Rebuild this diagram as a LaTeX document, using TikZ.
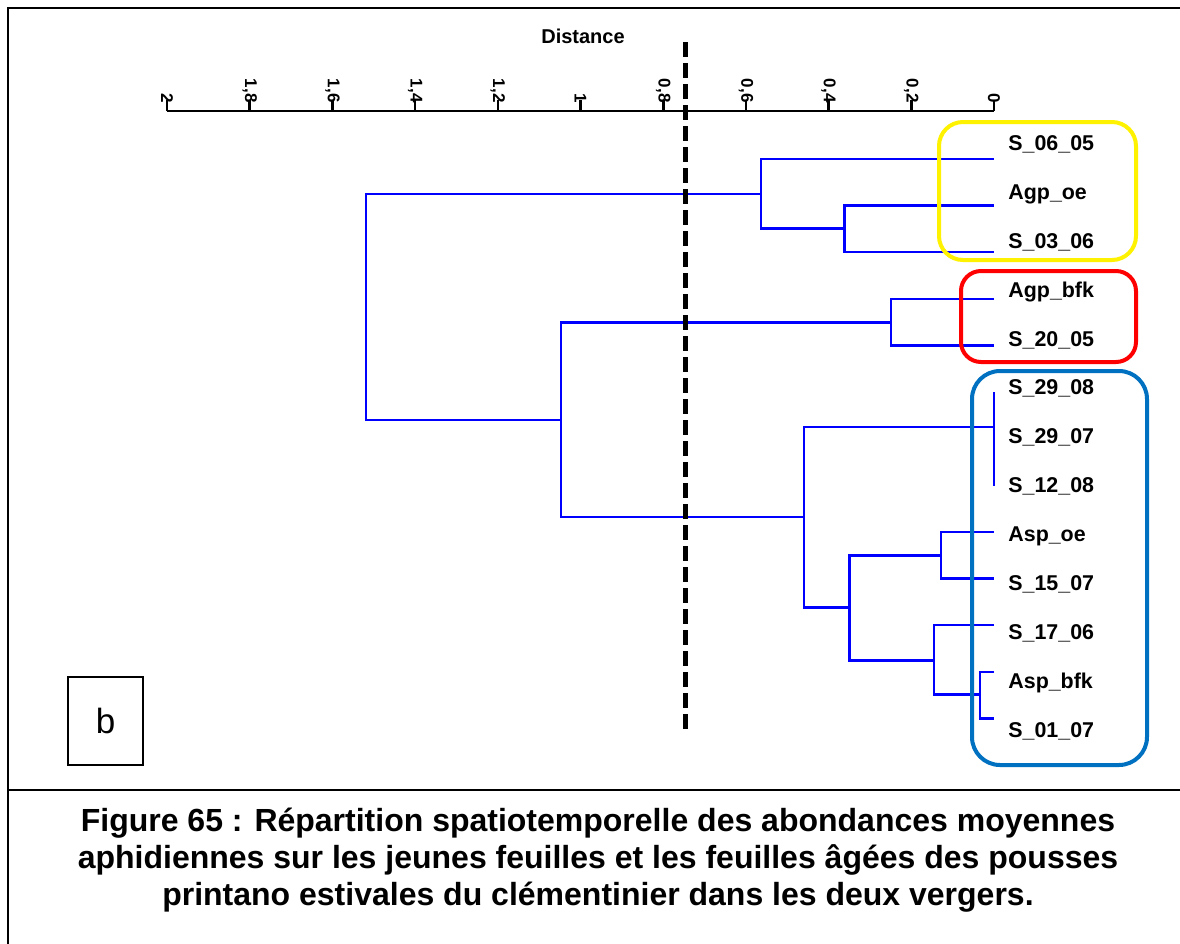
\documentclass[tikz,border=0pt]{standalone}
\usepackage{fontspec}
\setmainfont{Liberation Sans}
\usetikzlibrary{positioning}

\definecolor{dendblue}{RGB}{0,0,255}
\definecolor{boxblue}{RGB}{0,112,192}

\begin{document}
\begin{tikzpicture}[
                x = 0.5pt, y = -0.5pt, % one unit = one pixel of the figure
                dendro/.style = {draw = dendblue, line width = 1.2pt}, % branches
                lbl/.style = {anchor = west, inner sep = 0pt, text height = 8pt,
                    text depth = 2.6pt, font = \fontsize{10.7}{10.7}\selectfont\bfseries},
                axlbl/.style = {rotate = -90, anchor = east, inner sep = 0pt,
                    font = \fontsize{8.5}{9}\selectfont\bfseries},
                grpbox/.style = {line width = 2pt, rounded corners = 12pt}
            ]

            \useasboundingbox (0,0) rectangle (1180,944);

            % frame of the figure
            \draw[line width = 1.3pt] (8,944) -- (8,8) -- (1180,8);
            \draw[line width = 1pt] (8,790) -- (1180,790);

            % distance axis
            \node (dist) at (583,36) {\fontsize{10}{10}\selectfont\bfseries Distance};
            \draw[line width = 1.3pt] (167,111) -- (994,111);
            \foreach \v/\t [count=\i] in {0/0, 0.2/{0,2}, 0.4/{0,4}, 0.6/{0,6},
                0.8/{0,8}, 1/1, 1.2/{1,2}, 1.4/{1,4}, 1.6/{1,6}, 1.8/{1,8}, 2/2}
            {
                \draw[line width = 1.3pt] ({994-413.5*\v},111) -- ({994-413.5*\v},100);
                \node[axlbl] (tick\i) at ({994-413.5*\v},103) {\t};
            }

            % leaf labels
            \node[lbl] (s0605) at (1008,145) {S\_06\_05};
            \node[lbl, below = 24.45pt of s0605.west, anchor = west] (agpoe) {Agp\_oe};
            \node[lbl, below = 24.45pt of agpoe.west, anchor = west] (s0306) {S\_03\_06};
            \node[lbl, below = 24.45pt of s0306.west, anchor = west] (agpbfk) {Agp\_bfk};
            \node[lbl, below = 24.45pt of agpbfk.west, anchor = west] (s2005) {S\_20\_05};
            \node[lbl, below = 24.45pt of s2005.west, anchor = west] (s2908) {S\_29\_08};
            \node[lbl, below = 24.45pt of s2908.west, anchor = west] (s2907) {S\_29\_07};
            \node[lbl, below = 24.45pt of s2907.west, anchor = west] (s1208) {S\_12\_08};
            \node[lbl, below = 24.45pt of s1208.west, anchor = west] (aspoe) {Asp\_oe};
            \node[lbl, below = 24.45pt of aspoe.west, anchor = west] (s1507) {S\_15\_07};
            \node[lbl, below = 24.45pt of s1507.west, anchor = west] (s1706) {S\_17\_06};
            \node[lbl, below = 24.45pt of s1706.west, anchor = west] (aspbfk) {Asp\_bfk};
            \node[lbl, below = 24.45pt of aspbfk.west, anchor = west] (s0107) {S\_01\_07};

            % leaf ends and merge points
            \coordinate (lf1) at (994,159);   \coordinate (lf2) at (994,205.3);
            \coordinate (lf3) at (994,251.7); \coordinate (lf4) at (994,299);
            \coordinate (lf5) at (994,345.3); \coordinate (lf6) at (994,392.3);
            \coordinate (lf8) at (994,485.7); \coordinate (m7) at (994,426.7);
            \coordinate (lf9) at (994,531.7); \coordinate (lf10) at (994,578.3);
            \coordinate (lf11) at (994,625);  \coordinate (lf12) at (994,671.7);
            \coordinate (lf13) at (994,718.3);
            \coordinate (m1) at (844.3,228.3); \coordinate (m2) at (760.7,194);
            \coordinate (root) at (366,420);   \coordinate (m4) at (561,420);
            \coordinate (m5) at (890.7,322.3); \coordinate (m6) at (804,517);
            \coordinate (m8) at (849.3,607.3); \coordinate (m9) at (941,555.3);
            \coordinate (m10) at (933.7,660.3); \coordinate (m11) at (980,694.3);

            % dendrogram
            \draw[dendro] (lf2) -| (m1) |- (lf3);
            \draw[dendro] (lf1) -| (m2) |- (m1);
            \draw[dendro] (m2) -| (root) -- (m4);
            \draw[dendro] (lf4) -| (m5) |- (lf5);
            \draw[dendro] (m5) -| (m4) |- (m6);
            \draw[dendro] (lf6) -- (lf8);
            \draw[dendro] (m7) -| (m6) |- (m8);
            \draw[dendro] (lf9) -| (m9) |- (lf10);
            \draw[dendro] (m9) -| (m8) |- (m10);
            \draw[dendro] (lf11) -| (m10) |- (m11);
            \draw[dendro] (lf12) -| (m11) |- (lf13);

            % cut level
            \coordinate (cuttop) at (685.5,42);
            \coordinate (cutbot) at (685.5,732);
            \draw[line width = 2.5pt, dash pattern = on 7.5pt off 3pt] (cuttop) -- (cutbot);

            % groups
            \draw[grpbox, draw = yellow] (939,122) rectangle (1136,260);
            \draw[grpbox, draw = red, rounded corners = 10pt] (961,271) rectangle (1136,362);
            \draw[grpbox, draw = boxblue, rounded corners = 14pt] (972,371) rectangle (1147,765);

            % panel letter
            \node[draw, line width = 0.8pt, minimum width = 37.5pt, minimum height = 44pt,
                font = \fontsize{17.5}{17.5}\selectfont] (panel) at (105.5,721) {b};

            % caption
            \node[font = \fontsize{16}{18.6}\selectfont\bfseries, align = center] (caption)
                at (598,860) {Figure 65 : Répartition spatiotemporelle des abondances moyennes\\
                aphidiennes sur les jeunes feuilles et les feuilles âgées des pousses\\
                printano estivales du clémentinier dans les deux vergers.};

        \end{tikzpicture}
\end{document}
